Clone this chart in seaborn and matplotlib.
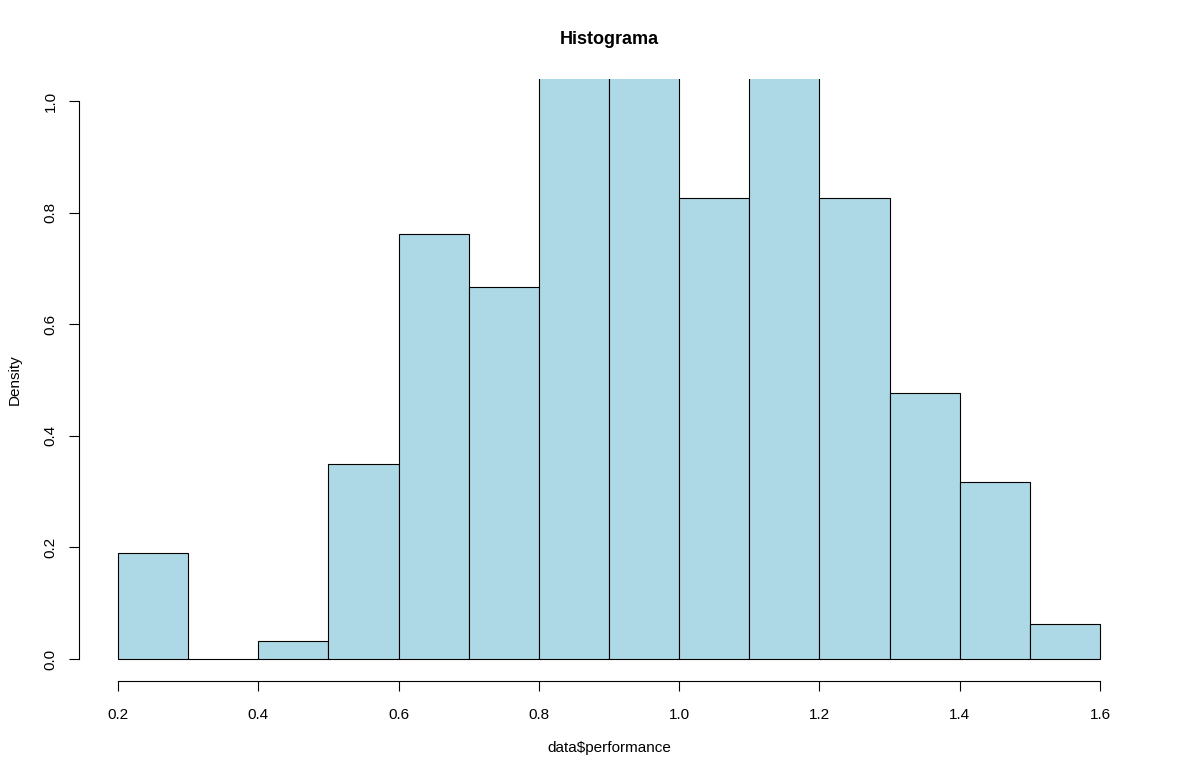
import matplotlib
matplotlib.use("Agg")
import matplotlib.pyplot as plt
import seaborn as sns
import numpy as np

# Data (density per bin, bin width 0.1)
bin_edges = [0.2, 0.3, 0.4, 0.5, 0.6, 0.7, 0.8, 0.9, 1.0, 1.1, 1.2, 1.3, 1.4, 1.5, 1.6]
densities = [0.190, 0.0, 0.032, 0.349, 0.762, 0.667, 1.84, 1.81, 0.826, 1.84, 0.826, 0.477, 0.317, 0.063]
x_ticks = [0.2, 0.4, 0.6, 0.8, 1.0, 1.2, 1.4, 1.6]
y_ticks = [0.0, 0.2, 0.4, 0.6, 0.8, 1.0]

sns.set_style("white")
plt.rcParams['font.family'] = ['Liberation Sans', 'DejaVu Sans']
plt.rcParams['text.color'] = 'black'
plt.rcParams['axes.labelcolor'] = 'black'
plt.rcParams['xtick.color'] = 'black'
plt.rcParams['ytick.color'] = 'black'

centers = [(bin_edges[i] + bin_edges[i + 1]) / 2 for i in range(len(densities))]

fig = plt.figure(figsize=(11.8, 7.8), dpi=100)
ax = fig.add_axes([0.0667, 0.1265, 0.9655 - 0.0667, 0.899 - 0.1265])

sns.histplot(x=centers, weights=densities, bins=bin_edges, stat="count",
             color="#ADD8E6", edgecolor="black", linewidth=0.8, alpha=1.0, ax=ax)

ax.set_xlim(0.144, 1.656)
ax.set_ylim(-0.04, 1.04)
ax.set_xticks(x_ticks)
ax.set_xticklabels([f"{v:.1f}" for v in x_ticks], fontsize=11)
ax.set_yticks(y_ticks)
ax.set_yticklabels([f"{v:.1f}" for v in y_ticks], fontsize=11, rotation=90, va="center")

for s in ["top", "right"]:
    ax.spines[s].set_visible(False)
ax.spines["left"].set_bounds(0.0, 1.0)
ax.spines["bottom"].set_bounds(0.2, 1.6)
for s in ["left", "bottom"]:
    ax.spines[s].set_color("black")
    ax.spines[s].set_linewidth(0.8)
ax.tick_params(axis="both", direction="out", length=7, width=0.8, color="black",
               labelcolor="black", left=True, bottom=True, pad=8)
ax.tick_params(axis="x", pad=12)

ax.set_xlabel("data\\$performance", fontsize=11, labelpad=14)
ax.set_ylabel("Density", fontsize=11, labelpad=16)
fig.text(0.5 * (0.0667 + 0.9655), 1 - 40 / 780, "Histograma", ha="center", va="center",
         fontsize=13, fontweight="bold")
ax.grid(False)

fig.savefig("out.png", dpi=100)
